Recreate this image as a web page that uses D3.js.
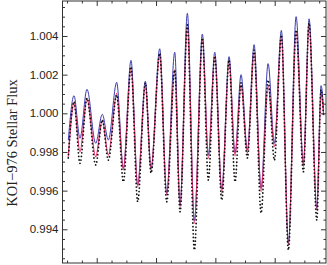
<!DOCTYPE html>
<html>
<head>
<meta charset="utf-8">
<script src="https://cdn.jsdelivr.net/npm/d3@7"></script>
<style>
  body { margin: 0; background: #fff; }
  svg { display: block; }
  .axis path { display: none; }
  .axis line { stroke: #333; }
  .ylab text { font-family: "Liberation Sans", Arial, sans-serif; font-size: 11.5px; fill: #222; }
</style>
</head>
<body>
<div class="chart"></div>
<script>
// turning points of the light curve (time in days)
var times = [0.521, 0.617, 0.718, 0.836, 0.983, 1.094, 1.196, 1.337, 1.449, 1.578,
  1.691, 1.820, 1.916, 2.062, 2.180, 2.315, 2.405, 2.528, 2.646, 2.781,
  2.882, 2.990, 3.108, 3.231, 3.332, 3.433, 3.540, 3.653, 3.771, 3.889,
  3.995, 4.113, 4.231, 4.361, 4.484, 4.580, 4.710, 4.782, 4.825];

// blue model
var blueFlux = [0.99862, 1.00091, 0.99871, 1.00124, 0.99845, 0.99995, 0.99862, 1.00160, 0.99715, 1.00274,
  0.99629, 1.00166, 0.99715, 1.00334, 0.99586, 1.00316, 0.99526, 1.00517, 0.99443, 1.00410,
  0.99784, 1.00316, 0.99607, 1.00293, 0.99793, 1.00200, 0.99810, 1.00355, 0.99612, 1.00257,
  0.99845, 1.00429, 0.99327, 1.00500, 0.99741, 1.00489, 0.99508, 1.00143, 1.00020];

// red model
var redFlux = [0.99775, 1.00052, 0.99801, 1.00078, 0.99775, 0.99965, 0.99784, 1.00103, 0.99707, 1.00233,
  0.99620, 1.00146, 0.99707, 1.00302, 0.99577, 1.00224, 0.99517, 1.00448, 0.99431, 1.00379,
  0.99767, 1.00293, 0.99586, 1.00267, 0.99779, 1.00146, 0.99793, 1.00310, 0.99594, 1.00146,
  0.99827, 1.00396, 0.99319, 1.00422, 0.99724, 1.00457, 0.99500, 1.00103, 0.99990];

// observed flux (black points)
var obsFlux = [0.99769, 1.00060, 0.99741, 1.00078, 0.99733, 0.99965, 0.99758, 1.00095, 0.99646, 1.00241,
  0.99543, 1.00157, 0.99691, 1.00310, 0.99543, 1.00224, 0.99491, 1.00457, 0.99293, 1.00390,
  0.99655, 1.00296, 0.99551, 1.00276, 0.99646, 1.00157, 0.99769, 1.00327, 0.99484, 1.00172,
  0.99758, 1.00405, 0.99293, 1.00431, 0.99698, 1.00467, 0.99448, 1.00121, 0.99980];

var yMajor = [0.994, 0.996, 0.998, 1.000, 1.002, 1.004];
var xMajor = [1, 2, 3, 4];

var W = 327, H = 265;
var mLeft = 62.5, mRight = 326, mTop = 1, mBottom = 263;

var svg = d3.select('.chart').append('svg')
  .attr('width', W)
  .attr('height', H);

var x = d3.scaleLinear().domain([0.4233, 4.865]).range([mLeft, mRight]);
var y = d3.scaleLinear().domain([0.992256, 1.00581]).range([mBottom, mTop]);

var yMinor = d3.range(0.9925, 1.0058, 0.0005).filter(function(v){
  return !yMajor.some(function(m){ return Math.abs(m - v) < 1e-7; });
});
var xMinor = d3.range(0.5, 4.8, 0.25).filter(function(v){ return v % 1 !== 0; });

function line(vals) {
  return d3.line()
    .x(function(d, i){ return x(times[i]); })
    .y(function(d){ return y(d); })
    .curve(d3.curveMonotoneX)(vals);
}

var plot = svg.append('g');

plot.append('path')
  .attr('d', line(blueFlux))
  .attr('fill', 'none')
  .attr('stroke', '#3c3cae')
  .attr('stroke-width', 1);

plot.append('path')
  .attr('d', line(redFlux))
  .attr('fill', 'none')
  .attr('stroke', '#e8386f')
  .attr('stroke-width', 1.3);

plot.append('path')
  .attr('d', line(obsFlux))
  .attr('fill', 'none')
  .attr('stroke', '#111')
  .attr('stroke-width', 1.8)
  .attr('stroke-linecap', 'round')
  .attr('stroke-dasharray', '0 3.6');

// axes, ticks pointing inward on all four sides
svg.append('g').attr('class', 'axis ylab')
  .attr('transform', 'translate(' + mLeft + ',0)')
  .call(d3.axisLeft(y).tickValues(yMajor).tickSize(-5).tickPadding(4).tickFormat(d3.format('.3f')));
svg.append('g').attr('class', 'axis')
  .attr('transform', 'translate(' + mLeft + ',0)')
  .call(d3.axisLeft(y).tickValues(yMinor).tickSize(-2.5).tickFormat(''));
svg.append('g').attr('class', 'axis')
  .attr('transform', 'translate(' + mRight + ',0)')
  .call(d3.axisRight(y).tickValues(yMajor).tickSize(-5).tickFormat(''));
svg.append('g').attr('class', 'axis')
  .attr('transform', 'translate(' + mRight + ',0)')
  .call(d3.axisRight(y).tickValues(yMinor).tickSize(-2.5).tickFormat(''));

svg.append('g').attr('class', 'axis')
  .attr('transform', 'translate(0,' + mBottom + ')')
  .call(d3.axisBottom(x).tickValues(xMajor).tickSize(-5).tickFormat(''));
svg.append('g').attr('class', 'axis')
  .attr('transform', 'translate(0,' + mBottom + ')')
  .call(d3.axisBottom(x).tickValues(xMinor).tickSize(-2.5).tickFormat(''));
svg.append('g').attr('class', 'axis')
  .attr('transform', 'translate(0,' + mTop + ')')
  .call(d3.axisTop(x).tickValues(xMajor).tickSize(-5).tickFormat(''));
svg.append('g').attr('class', 'axis')
  .attr('transform', 'translate(0,' + mTop + ')')
  .call(d3.axisTop(x).tickValues(xMinor).tickSize(-2.5).tickFormat(''));

svg.append('rect')
  .attr('x', mLeft).attr('y', mTop)
  .attr('width', mRight - mLeft).attr('height', mBottom - mTop)
  .attr('fill', 'none')
  .attr('stroke', '#333')
  .attr('stroke-width', 1);

svg.append('text')
  .attr('transform', 'translate(17,143) rotate(-90)')
  .attr('text-anchor', 'middle')
  .style('font-family', '"Liberation Serif", "Times New Roman", serif')
  .style('font-size', '14.5px')
  .style('fill', '#222')
  .text('KOI\u2212976 Stellar Flux');
</script>
</body>
</html>
